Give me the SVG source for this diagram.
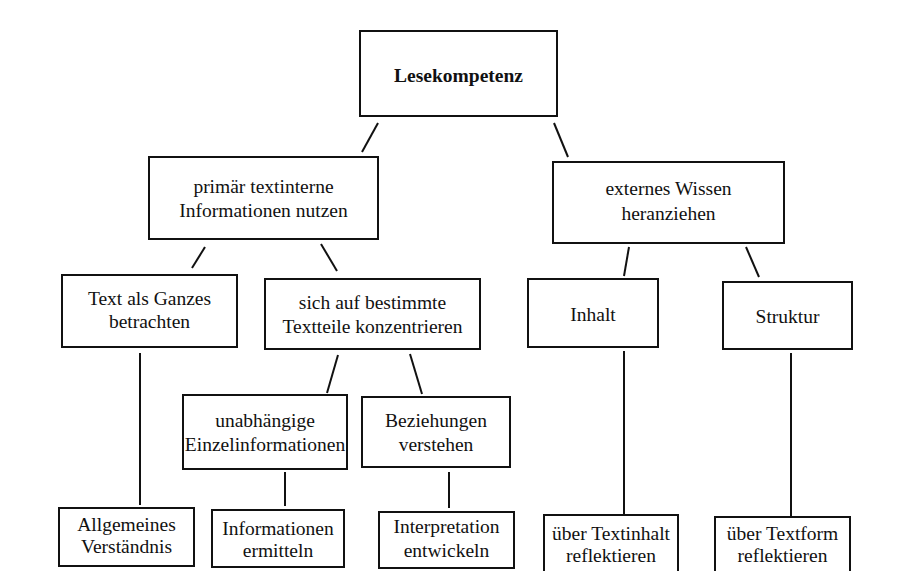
<svg xmlns="http://www.w3.org/2000/svg" width="913" height="571" viewBox="0 0 913 571">
<style>
.box{fill:#fff;stroke:#111;stroke-width:2}
.t{fill:#111;text-anchor:middle}
.b{font-weight:bold}
.c line{stroke:#111;stroke-width:2}
</style>
<rect x="0" y="0" width="913" height="571" fill="#fff"/>
<g id="connectors" class="c">
<line x1="378" y1="123" x2="362" y2="152"/>
<line x1="554" y1="123" x2="568" y2="157"/>
<line x1="205" y1="247" x2="192" y2="268"/>
<line x1="321" y1="244" x2="337" y2="271"/>
<line x1="629" y1="247" x2="624" y2="276"/>
<line x1="746" y1="247" x2="759" y2="277"/>
<line x1="140" y1="353" x2="140" y2="505"/>
<line x1="338" y1="355" x2="327" y2="393"/>
<line x1="410" y1="354" x2="422" y2="394"/>
<line x1="285" y1="472" x2="285" y2="506"/>
<line x1="449" y1="472" x2="449" y2="508"/>
<line x1="624" y1="351" x2="624" y2="514"/>
<line x1="791" y1="353" x2="791" y2="516"/>
</g>
<g id="nodes" font-family="Liberation Serif, Times New Roman, DejaVu Serif, serif" font-size="19.5">
<g id="n-lesekompetenz"><rect class="box" x="360" y="31" width="197" height="85"/><text class="t b" x="458.5" y="82">Lesekompetenz</text></g>
<g id="n-primaer"><rect class="box" x="149" y="157" width="229" height="82"/><text class="t" x="263.5" y="193">primär textinterne</text><text class="t" x="263.5" y="217">Informationen nutzen</text></g>
<g id="n-extern"><rect class="box" x="553" y="162" width="231" height="81"/><text class="t" x="668.5" y="195">externes Wissen</text><text class="t" x="668.5" y="220">heranziehen</text></g>
<g id="n-ganzes"><rect class="box" x="62" y="275" width="175" height="72"/><text class="t" x="149.5" y="305">Text als Ganzes</text><text class="t" x="149.5" y="328">betrachten</text></g>
<g id="n-teile"><rect class="box" x="265" y="279" width="215" height="70"/><text class="t" x="372.5" y="309">sich auf bestimmte</text><text class="t" x="372.5" y="333">Textteile konzentrieren</text></g>
<g id="n-inhalt"><rect class="box" x="528" y="279" width="130" height="68"/><text class="t" x="593" y="321">Inhalt</text></g>
<g id="n-struktur"><rect class="box" x="723" y="282" width="129" height="67"/><text class="t" x="787.5" y="323">Struktur</text></g>
<g id="n-unabh"><rect class="box" x="183" y="395" width="164" height="74"/><text class="t" x="265" y="427">unabhängige</text><text class="t" x="265" y="451">Einzelinformationen</text></g>
<g id="n-bez"><rect class="box" x="362" y="397" width="148" height="70"/><text class="t" x="436" y="427">Beziehungen</text><text class="t" x="436" y="451">verstehen</text></g>
<g id="n-allg"><rect class="box" x="59" y="508" width="135" height="58"/><text class="t" x="126.5" y="531">Allgemeines</text><text class="t" x="126.5" y="553">Verständnis</text></g>
<g id="n-ermitteln"><rect class="box" x="212" y="510" width="132" height="57"/><text class="t" x="278" y="535">Informationen</text><text class="t" x="278" y="557">ermitteln</text></g>
<g id="n-interp"><rect class="box" x="379" y="512" width="135" height="56"/><text class="t" x="446.5" y="533">Interpretation</text><text class="t" x="446.5" y="557">entwickeln</text></g>
<g id="n-textinhalt"><rect class="box" x="544" y="515" width="134" height="70"/><text class="t" x="611" y="540">über Textinhalt</text><text class="t" x="611" y="562">reflektieren</text></g>
<g id="n-textform"><rect class="box" x="715" y="517" width="135" height="70"/><text class="t" x="782.5" y="540">über Textform</text><text class="t" x="782.5" y="562">reflektieren</text></g>
</g>
</svg>
